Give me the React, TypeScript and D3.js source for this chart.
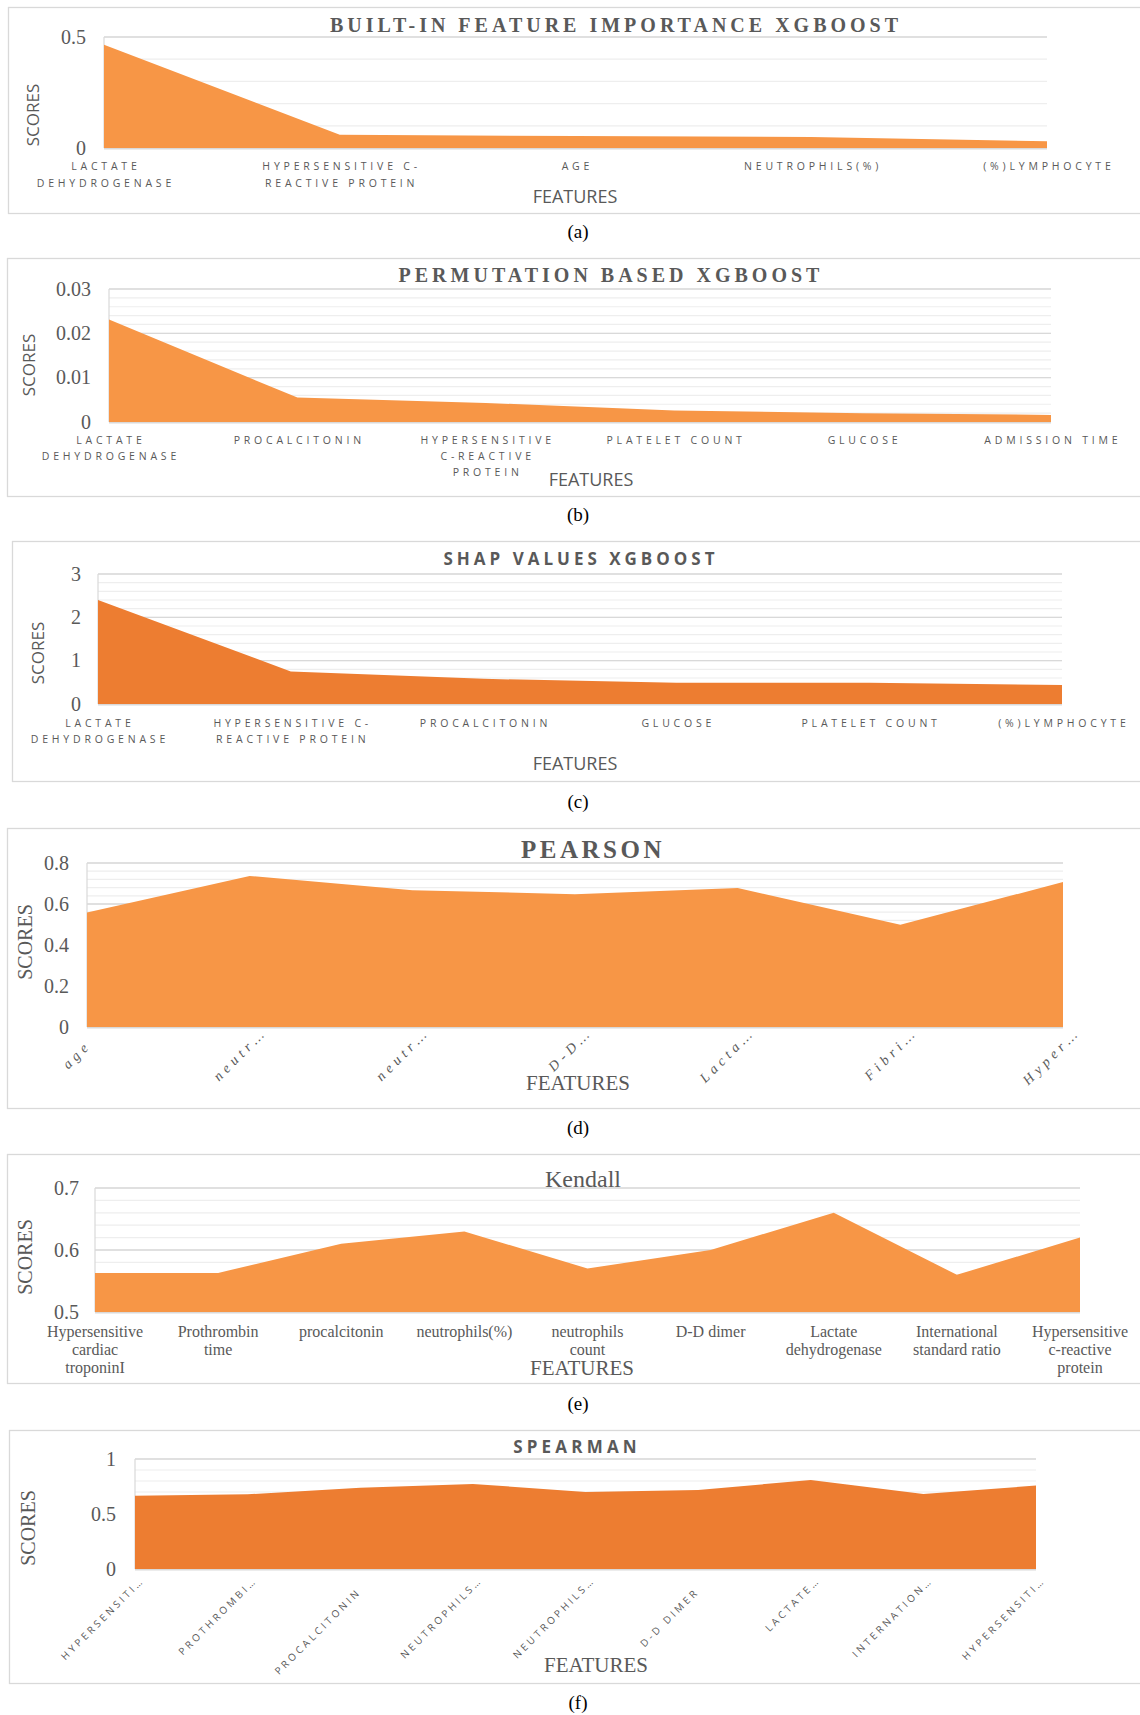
import React from "react";
import * as d3 from "d3";

// ---- data -------------------------------------------------------------
const builtinFeatures = [["LACTATE", "DEHYDROGENASE"], ["HYPERSENSITIVE C-", "REACTIVE PROTEIN"], ["AGE"], ["NEUTROPHILS(%)"], ["(%)LYMPHOCYTE"]];
const builtinScores = [0.465, 0.06, 0.054, 0.05, 0.03];
const builtinTicks = [0, 0.5];

const permFeatures = [["LACTATE", "DEHYDROGENASE"], ["PROCALCITONIN"], ["HYPERSENSITIVE", "C-REACTIVE", "PROTEIN"], ["PLATELET COUNT"], ["GLUCOSE"], ["ADMISSION TIME"]];
const permScores = [0.0231, 0.0055, 0.0043, 0.0026, 0.002, 0.0016];
const permTicks = [0, 0.01, 0.02, 0.03];

const shapFeatures = [["LACTATE", "DEHYDROGENASE"], ["HYPERSENSITIVE C-", "REACTIVE PROTEIN"], ["PROCALCITONIN"], ["GLUCOSE"], ["PLATELET COUNT"], ["(%)LYMPHOCYTE"]];
const shapScores = [2.4, 0.75, 0.58, 0.49, 0.49, 0.44];
const shapTicks = [0, 1, 2, 3];

const pearsonFeatures = [["age"], ["neutr…"], ["neutr…"], ["D-D…"], ["Lacta…"], ["Fibri…"], ["Hyper…"]];
const pearsonScores = [0.558, 0.737, 0.667, 0.648, 0.678, 0.499, 0.707];
const pearsonTicks = [0, 0.2, 0.4, 0.6, 0.8];

const kendallFeatures = [
  ["Hypersensitive", "cardiac", "troponinI"],
  ["Prothrombin", "time"],
  ["procalcitonin"],
  ["neutrophils(%)"],
  ["neutrophils", "count"],
  ["D-D dimer"],
  ["Lactate", "dehydrogenase"],
  ["International", "standard ratio"],
  ["Hypersensitive", "c-reactive", "protein"],
];
const kendallScores = [0.563, 0.563, 0.61, 0.63, 0.57, 0.6, 0.66, 0.56, 0.62];
const kendallTicks = [0.5, 0.6, 0.7];

const spearmanFeatures = [["HYPERSENSITI…"], ["PROTHROMBI…"], ["PROCALCITONIN"], ["NEUTROPHILS…"], ["NEUTROPHILS…"], ["D-D DIMER"], ["LACTATE…"], ["INTERNATION…"], ["HYPERSENSITI…"]];
const spearmanScores = [0.667, 0.679, 0.739, 0.773, 0.7, 0.718, 0.809, 0.682, 0.758];
const spearmanTicks = [0, 0.5, 1];

// ---- styling ----------------------------------------------------------
const SERIF = "'Liberation Serif', 'Times New Roman', serif";
const SANS = "'Open Sans', 'Noto Sans', sans-serif";
const INK = "#595959";
const LIGHT_ORANGE = "#F79646";
const DARK_ORANGE = "#ED7D31";

type TextStyle = { family: string; size: number; weight?: number; spacing?: number; italic?: boolean };

type PanelCfg = {
  caption: string;
  features: string[][];
  scores: number[];
  ticks: number[];
  minorStep: number;
  fill: string;
  frame: { x: number; y: number; h: number };
  plot: { x0: number; x1: number; yTop: number; yBot: number };
  title: { text: string; x: number; y: number; style: TextStyle };
  tickRight: number;
  tickSize: number;
  scoresLabel: { x: number; y: number; style: TextStyle };
  xLabels:
    | { mode: "wrap"; y: number; lineH: number; style: TextStyle }
    | { mode: "rotate"; dx: number; y: number; fullShift: [number, number]; style: TextStyle };
  featuresLabel: { x: number; y: number; style: TextStyle };
  captionY: number;
};

const sansLabel: TextStyle = { family: SANS, size: 10.5, spacing: 3.8 };

const panels: PanelCfg[] = [
  {
    caption: "(a)",
    features: builtinFeatures,
    scores: builtinScores,
    ticks: builtinTicks,
    minorStep: 0.1,
    fill: LIGHT_ORANGE,
    frame: { x: 8.5, y: 7.5, h: 206 },
    plot: { x0: 104, x1: 1047, yTop: 37, yBot: 148 },
    title: { text: "BUILT-IN FEATURE IMPORTANCE XGBOOST", x: 616, y: 32, style: { family: SERIF, size: 20, weight: 700, spacing: 4 } },
    tickRight: 86,
    tickSize: 20,
    scoresLabel: { x: 33, y: 115, style: { family: SANS, size: 17 } },
    xLabels: { mode: "wrap", y: 170, lineH: 17, style: sansLabel },
    featuresLabel: { x: 575, y: 203, style: { family: SANS, size: 18 } },
    captionY: 238,
  },
  {
    caption: "(b)",
    features: permFeatures,
    scores: permScores,
    ticks: permTicks,
    minorStep: 0.002,
    fill: LIGHT_ORANGE,
    frame: { x: 7.5, y: 258.5, h: 238 },
    plot: { x0: 109, x1: 1051, yTop: 289, yBot: 422 },
    title: { text: "PERMUTATION BASED XGBOOST", x: 611, y: 282, style: { family: SERIF, size: 20, weight: 700, spacing: 4 } },
    tickRight: 91,
    tickSize: 20,
    scoresLabel: { x: 29, y: 365, style: { family: SANS, size: 17 } },
    xLabels: { mode: "wrap", y: 444, lineH: 16, style: sansLabel },
    featuresLabel: { x: 591, y: 486, style: { family: SANS, size: 18 } },
    captionY: 521,
  },
  {
    caption: "(c)",
    features: shapFeatures,
    scores: shapScores,
    ticks: shapTicks,
    minorStep: 0.2,
    fill: DARK_ORANGE,
    frame: { x: 12.5, y: 541.5, h: 240 },
    plot: { x0: 98, x1: 1062, yTop: 574, yBot: 704 },
    title: { text: "SHAP VALUES XGBOOST", x: 581, y: 565, style: { family: SANS, size: 17, weight: 700, spacing: 4 } },
    tickRight: 81,
    tickSize: 20,
    scoresLabel: { x: 38, y: 653, style: { family: SANS, size: 17 } },
    xLabels: { mode: "wrap", y: 727, lineH: 16, style: sansLabel },
    featuresLabel: { x: 575, y: 770, style: { family: SANS, size: 18 } },
    captionY: 808,
  },
  {
    caption: "(d)",
    features: pearsonFeatures,
    scores: pearsonScores,
    ticks: pearsonTicks,
    minorStep: 0.04,
    fill: LIGHT_ORANGE,
    frame: { x: 7.5, y: 828.5, h: 280 },
    plot: { x0: 87, x1: 1063, yTop: 863, yBot: 1027 },
    title: { text: "PEARSON", x: 593, y: 858, style: { family: SERIF, size: 25, weight: 700, spacing: 3.5 } },
    tickRight: 69,
    tickSize: 20,
    scoresLabel: { x: 25, y: 942, style: { family: SERIF, size: 20 } },
    xLabels: { mode: "rotate", dx: 18, y: 1033, fullShift: [-13, 13], style: { family: SERIF, size: 14, spacing: 4.5, italic: true } },
    featuresLabel: { x: 578, y: 1090, style: { family: SERIF, size: 21 } },
    captionY: 1134,
  },
  {
    caption: "(e)",
    features: kendallFeatures,
    scores: kendallScores,
    ticks: kendallTicks,
    minorStep: 0.02,
    fill: LIGHT_ORANGE,
    frame: { x: 7.5, y: 1154.5, h: 229 },
    plot: { x0: 95, x1: 1080, yTop: 1188, yBot: 1312 },
    title: { text: "Kendall", x: 583, y: 1187, style: { family: SERIF, size: 24 } },
    tickRight: 79,
    tickSize: 20,
    scoresLabel: { x: 25, y: 1257, style: { family: SERIF, size: 20 } },
    xLabels: { mode: "wrap", y: 1337, lineH: 18, style: { family: SERIF, size: 16 } },
    featuresLabel: { x: 582, y: 1375, style: { family: SERIF, size: 21 } },
    captionY: 1410,
  },
  {
    caption: "(f)",
    features: spearmanFeatures,
    scores: spearmanScores,
    ticks: spearmanTicks,
    minorStep: 0.1,
    fill: DARK_ORANGE,
    frame: { x: 9.5, y: 1430.5, h: 253 },
    plot: { x0: 135, x1: 1036, yTop: 1459, yBot: 1569 },
    title: { text: "SPEARMAN", x: 577, y: 1453, style: { family: SANS, size: 17, weight: 700, spacing: 4.2 } },
    tickRight: 116,
    tickSize: 20,
    scoresLabel: { x: 28, y: 1528, style: { family: SERIF, size: 20 } },
    xLabels: { mode: "rotate", dx: 10, y: 1581, fullShift: [-8.5, 11.5], style: { family: SANS, size: 10, spacing: 3 } },
    featuresLabel: { x: 596, y: 1672, style: { family: SERIF, size: 21 } },
    captionY: 1709,
  },
];

function textProps(s: TextStyle) {
  return {
    fontFamily: s.family,
    fontSize: s.size,
    fontWeight: s.weight ?? 400,
    letterSpacing: s.spacing ?? 0,
    fontStyle: s.italic ? "italic" : "normal",
    fill: INK,
  };
}

function AreaPanel({ cfg }: { cfg: PanelCfg }) {
  const { plot, ticks } = cfg;
  const names = cfg.features.map((f, i) => `${i}`);
  const x = d3.scalePoint<string>().domain(names).range([plot.x0, plot.x1]).padding(0);
  const y = d3
    .scaleLinear()
    .domain([ticks[0], ticks[ticks.length - 1]])
    .range([plot.yBot, plot.yTop]);

  const area = d3
    .area<number>()
    .x((_, i) => x(names[i]) as number)
    .y0(y(ticks[0]))
    .y1((d) => y(d));

  const [lo, hi] = y.domain();
  const minor = d3.range(Math.round((hi - lo) / cfg.minorStep) + 1).map((k) => lo + k * cfg.minorStep);

  return (
    <g>
      {/* chart frame, continuing past the right edge */}
      <rect x={cfg.frame.x} y={cfg.frame.y} width={1200} height={cfg.frame.h} fill="#fff" stroke="#d9d9d9" strokeWidth={1.3} />

      {/* gridlines */}
      {minor.map((v, i) => (
        <line key={`m${i}`} x1={plot.x0} x2={plot.x1} y1={y(v)} y2={y(v)} stroke="#eeeeee" strokeWidth={1.2} />
      ))}
      {ticks.map((v) => (
        <line key={`g${v}`} x1={plot.x0} x2={plot.x1} y1={y(v)} y2={y(v)} stroke="#d9d9d9" strokeWidth={1.3} />
      ))}
      <line x1={plot.x0} x2={plot.x0} y1={plot.yTop} y2={plot.yBot} stroke="#d9d9d9" strokeWidth={1.2} />

      {/* area */}
      <path d={area(cfg.scores) || ""} fill={cfg.fill} />
      <line x1={plot.x0} x2={plot.x1} y1={plot.yBot + 0.8} y2={plot.yBot + 0.8} stroke="#d9d9d9" strokeWidth={1.6} />

      {/* title */}
      <text x={cfg.title.x} y={cfg.title.y} textAnchor="middle" {...textProps(cfg.title.style)}>
        {cfg.title.text}
      </text>

      {/* y tick labels */}
      {ticks.map((v) => (
        <text key={`t${v}`} x={cfg.tickRight} y={y(v)} dy="0.34em" textAnchor="end" fontFamily={SERIF} fontSize={cfg.tickSize} fill={INK}>
          {String(v)}
        </text>
      ))}

      {/* y axis title */}
      <text
        transform={`translate(${cfg.scoresLabel.x},${cfg.scoresLabel.y}) rotate(-90)`}
        textAnchor="middle"
        dy="0.35em"
        {...textProps(cfg.scoresLabel.style)}
      >
        SCORES
      </text>

      {/* category labels */}
      {cfg.features.map((lines, i) => {
        const cx = x(names[i]) as number;
        const xl = cfg.xLabels;
        if (xl.mode === "wrap") {
          return (
            <text key={`c${i}`} x={cx} y={xl.y} textAnchor="middle" {...textProps(xl.style)}>
              {lines.map((ln, j) => (
                <tspan key={j} x={cx + (xl.style.spacing ?? 0) / 2} y={xl.y + j * xl.lineH}>
                  {ln}
                </tspan>
              ))}
            </text>
          );
        }
        const label = lines.join(" ");
        // labels that are not shortened with an ellipsis sit a little lower
        const [sx, sy] = label.endsWith("…") ? [0, 0] : xl.fullShift;
        return (
          <text
            key={`c${i}`}
            transform={`translate(${cx + xl.dx + sx},${xl.y + sy}) rotate(-45)`}
            textAnchor="end"
            {...textProps(xl.style)}
          >
            {label}
          </text>
        );
      })}

      {/* x axis title */}
      <text x={cfg.featuresLabel.x} y={cfg.featuresLabel.y} textAnchor="middle" {...textProps(cfg.featuresLabel.style)}>
        FEATURES
      </text>

      {/* sub-figure caption */}
      <text x={578} y={cfg.captionY} textAnchor="middle" fontFamily={SERIF} fontSize={19} fill="#000">
        {cfg.caption}
      </text>
    </g>
  );
}

export default function App() {
  return (
    <svg
      width={1140}
      height={1715}
      viewBox="0 0 1140 1715"
      style={{ position: "absolute", left: 0, top: 0, display: "block", background: "#fff" }}
    >
      <rect width={1140} height={1715} fill="#fff" />
      {panels.map((p) => (
        <AreaPanel key={p.caption} cfg={p} />
      ))}
    </svg>
  );
}
